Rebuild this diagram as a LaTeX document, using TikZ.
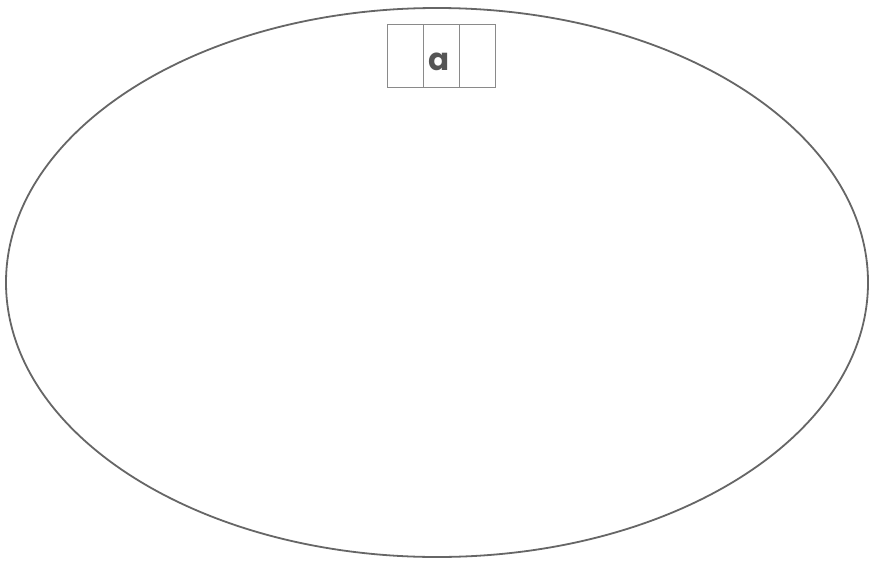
\documentclass[tikz,border=0pt]{standalone}
\usepackage{fontspec}
\newfontfamily\letterfont{Poppins}
\definecolor{ringgray}{HTML}{666666}
\definecolor{boxgray}{HTML}{8A8A8A}
\definecolor{lettergray}{HTML}{555555}
\begin{document}
\begin{tikzpicture}[x=1pt,y=-1pt,
  ring/.style={draw=ringgray,line width=1.8pt},
  cell/.style={draw=boxgray,line width=0.8pt,minimum width=36pt,minimum height=63pt,inner sep=0pt,outer sep=0pt}]
\useasboundingbox (0,0) rectangle (870,560);
\fill[white] (0,0) rectangle (870,560);
\draw[ring] (437,282.5) ellipse [x radius=431, y radius=274.5];
\node[cell] (c1) at (405,55.5) {};
\node[cell] (c2) at (441,55.5) {};
\node[cell] (c3) at (477,55.5) {};
\node[inner sep=0pt,anchor=base] (lt) at (439,70) {\letterfont\bfseries\fontsize{31}{31}\selectfont\color{lettergray}a};
\end{tikzpicture}
\end{document}
